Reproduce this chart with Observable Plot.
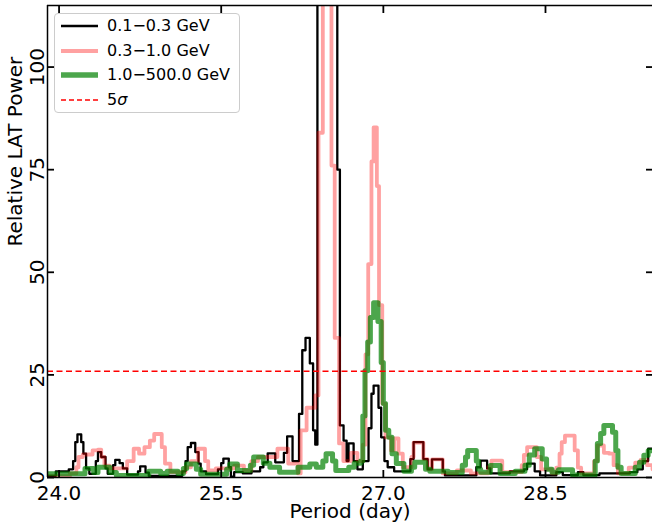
<!DOCTYPE html>
<html><head><meta charset="utf-8">
<script src="https://cdn.jsdelivr.net/npm/d3@7"></script>
<script src="https://cdn.jsdelivr.net/npm/@observablehq/plot@0.6"></script>
<style>
body{margin:0;background:#fff;font-family:"DejaVu Sans",sans-serif;}
#wrap{position:relative;width:652px;height:523px;overflow:hidden;}
.legend{position:absolute;left:54px;top:13px;width:186px;height:100px;border:1px solid #ccc;border-radius:4px;background:rgba(255,255,255,0.8);box-sizing:border-box;}
.row{position:absolute;left:0;width:186px;height:24px;}
.row svg{position:absolute;left:5px;top:0;}
.row span{position:absolute;left:52px;top:2px;font-size:16px;line-height:20px;white-space:nowrap;}
</style></head>
<body><div id="wrap"></div>
<script>
const xTicks = [24.0, 25.5, 27.0, 28.5];
const yTicks = [0, 25, 50, 75, 100];
const sigma5 = 25.9;
const seriesNames = ["0.1\u22120.3 GeV", "0.3\u22121.0 GeV", "1.0\u2212500.0 GeV"];

const blackPeriod = [23.893,23.97,24.09,24.13,24.15,24.17,24.205,24.225,24.25,24.28,24.34,24.36,24.39,24.43,24.45,24.50,24.52,24.56,24.59,24.63,24.73,24.75,24.80,24.83,25.14,25.17,25.19,25.22,25.26,25.29,25.31,25.36,25.47,25.50,25.52,25.57,25.59,25.62,25.70,25.78,25.86,25.89,25.93,26.00,26.08,26.11,26.16,26.22,26.25,26.28,26.32,26.35,26.37,26.39,26.574,26.598,26.632,26.66,26.678,26.725,26.76,26.81,26.863,26.89,26.91,26.955,26.98,27.01,27.04,27.10,27.25,27.28,27.37,27.41,27.45,27.55,27.57,27.86,27.90,27.96,27.99,28.17,28.30,28.33,28.40,28.45,28.60,28.66,28.80,28.85,29.00,29.28,29.35,29.40,29.45,29.49];
const blackPower  = [0.4,1.5,2.0,4.0,8.6,10.5,8.6,5.8,2.2,0.9,4.0,6.2,5.0,2.2,0.9,3.0,4.3,3.5,2.2,0.7,1.5,2.7,1.2,0.4,1.5,4.0,7.4,8.4,6.2,3.4,1.5,0.8,2.0,3.5,4.6,2.5,0.2,1.3,1.0,1.5,2.5,3.7,5.9,3.7,6.0,10.0,4.0,15.5,31,34,27.8,11.5,8,140,75,12.7,9,4,8.3,4,2,4,12,20.4,22.4,17,9.8,4,2.5,1.5,4.5,8.6,4.5,2.0,4.4,1.5,0.5,2.5,4.1,2.2,1.0,1.5,2.0,3.4,1.5,0.5,1.3,0.6,1.3,0.6,1.0,1.3,2.0,4.0,7.0,7.0];

const pinkPeriod = [23.893,24.10,24.16,24.18,24.22,24.31,24.36,24.39,24.42,24.47,24.63,24.69,24.74,24.79,24.84,24.88,24.95,24.98,25.03,25.17,25.22,25.26,25.285,25.35,25.38,25.45,25.62,25.71,25.78,25.84,26.02,26.12,26.21,26.235,26.29,26.37,26.40,26.44,26.52,26.55,26.59,26.63,26.70,26.76,26.81,26.835,26.86,26.89,26.91,26.94,26.96,26.99,27.02,27.07,27.10,27.14,27.18,27.26,27.28,27.37,27.41,27.45,27.55,27.68,27.81,27.97,28.00,28.10,28.28,28.30,28.33,28.42,28.46,28.56,28.60,28.63,28.65,28.68,28.77,28.80,28.83,28.95,28.98,29.04,29.09,29.13,29.17,29.27,29.33,29.38,29.44,29.49];
const pinkPower  = [0.3,1.0,2.5,5.0,5.6,6.6,6.8,5.0,2.9,2.2,4.0,7.0,5.8,7.4,9.0,10.6,7.4,3.4,1.3,2.5,4.0,4.0,7.0,4.0,1.7,2.2,2.9,1.7,4.0,5.0,7.0,3.4,1.0,11.5,17,20,84,140,76,34,8.3,4,6,4,8,30,52,77,85.3,71,42,18,9.8,6.6,9.5,5.8,2.5,5,8.5,4.5,2,4.4,1,1.7,1.0,2.5,4.1,1.3,3,5.5,7.4,5,2,1,2.4,5.8,8.6,10.2,6.6,2.4,1,4,7.8,6.0,5.8,3,1,2.4,3.6,4.3,3,2];

const greenPeriod = [23.893,24.24,24.32,24.36,24.47,24.53,24.83,24.94,25.00,25.10,25.15,25.18,25.27,25.31,25.55,25.58,25.65,25.77,25.80,25.89,25.95,26.04,26.21,26.32,26.38,26.44,26.47,26.53,26.56,26.68,26.73,26.79,26.81,26.83,26.855,26.88,26.91,26.95,26.98,27.00,27.02,27.05,27.08,27.12,27.19,27.26,27.29,27.39,27.43,27.60,27.73,27.76,27.78,27.86,27.88,27.90,27.99,28.08,28.22,28.31,28.35,28.40,28.47,28.51,28.56,28.62,28.75,28.96,28.98,29.01,29.04,29.12,29.15,29.17,29.20,29.33,29.37,29.41,29.45,29.49];
const greenPower  = [0.9,2.2,1.2,2.5,1.2,0.5,1.5,1.0,1.5,1.0,2.2,3.3,2.0,0.8,2.0,3.3,1.7,3.0,5.0,3.5,2.5,1.3,2.5,3.3,2.5,4.0,5.8,4.0,1.7,2.5,3.5,4.0,15,26,33,39,42.6,38,28,18,11.5,9.8,5.8,3.4,1.5,2.5,3.7,2.0,1.5,1.2,3.0,5.0,6.6,4.0,2.0,1.3,2.9,1.0,1.5,3.0,5.5,7.0,4.5,2.0,1.3,1.9,0.6,4.0,8.3,10.7,12.7,11,6.6,2.5,1.0,2.5,3.7,5.4,6.5,6.5];

const toRows = (xs, ys) => xs.map((x, i) => ({period: x, power: ys[i]}));
const black = toRows(blackPeriod, blackPower);
const pink = toRows(pinkPeriod, pinkPower);
const green = toRows(greenPeriod, greenPower);

const chart = Plot.plot({
  width: 652, height: 523,
  marginLeft: 47, marginRight: 0, marginTop: 5, marginBottom: 46,
  x: {domain: [23.893, 29.49], label: null},
  y: {domain: [0, 115], label: null},
  style: {fontFamily: "DejaVu Sans", fontSize: "20px", color: "black", background: "white", overflow: "visible"},
  marks: [
    Plot.line(black, {x: "period", y: "power", curve: "step-after", stroke: "black", strokeWidth: 2.3, clip: true}),
    Plot.line(pink, {x: "period", y: "power", curve: "step-after", stroke: "red", strokeOpacity: 0.37, strokeWidth: 3.8, clip: true}),
    Plot.line(green, {x: "period", y: "power", curve: "step-after", stroke: "green", strokeOpacity: 0.7, strokeWidth: 5, clip: true}),
    Plot.ruleY([sigma5], {stroke: "red", strokeWidth: 1.5, strokeDasharray: "6,3.5"}),
    Plot.ruleX([23.893], {strokeWidth: 1.5}),
    Plot.ruleY([0, 115], {strokeWidth: 1.5}),
    Plot.axisX({ticks: xTicks, anchor: "bottom", tickSize: 0, tickPadding: 8, tickFormat: d => d.toFixed(1), fontSize: 20, label: null}),
    Plot.axisX({ticks: xTicks, anchor: "bottom", tickSize: -7, tickFormat: () => "", strokeWidth: 1.8, label: null}),
    Plot.axisX({ticks: xTicks, anchor: "top", tickSize: -7, tickFormat: () => "", strokeWidth: 1.8, label: null}),
    Plot.axisY({ticks: yTicks, anchor: "left", tickSize: 0, tickRotate: -90, tickPadding: 4, fontSize: 20, label: null}),
    Plot.axisY({ticks: yTicks, anchor: "left", tickSize: -7, tickFormat: () => "", strokeWidth: 1.8, label: null}),
    Plot.axisY({ticks: yTicks, anchor: "right", tickSize: -7, tickFormat: () => "", strokeWidth: 1.8, label: null}),
    Plot.text(["Period (day)"], {frameAnchor: "bottom", dy: 26, lineAnchor: "top", fontSize: 20}),
    Plot.text(["Relative LAT Power"], {frameAnchor: "left", dx: -32, dy: 5, rotate: -90, lineAnchor: "middle", fontSize: 20})
  ]
});
const wrap = document.getElementById("wrap");
wrap.appendChild(chart);

// legend
const legend = document.createElement("div");
legend.className = "legend";
const entries = [
  {name: seriesNames[0], stroke: "black", op: 1, w: 2.5, dash: null},
  {name: seriesNames[1], stroke: "red", op: 0.37, w: 4, dash: null},
  {name: seriesNames[2], stroke: "green", op: 0.7, w: 5.5, dash: null},
  {name: null, stroke: "red", op: 1, w: 1.5, dash: "5,3"}
];
const rowY = [12, 37, 61, 86];
entries.forEach((e, i) => {
  const row = document.createElement("div");
  row.className = "row";
  row.style.top = (rowY[i] - 12) + "px";
  row.innerHTML = `<svg width="40" height="24"><line x1="1" x2="38" y1="12" y2="12" stroke="${e.stroke}" stroke-opacity="${e.op}" stroke-width="${e.w}" ${e.dash ? `stroke-dasharray="${e.dash}"` : ""}/></svg>` +
    (e.name ? `<span>${e.name}</span>` : `<span>5<i>σ</i></span>`);
  legend.appendChild(row);
});
wrap.appendChild(legend);
</script>
</body></html>
